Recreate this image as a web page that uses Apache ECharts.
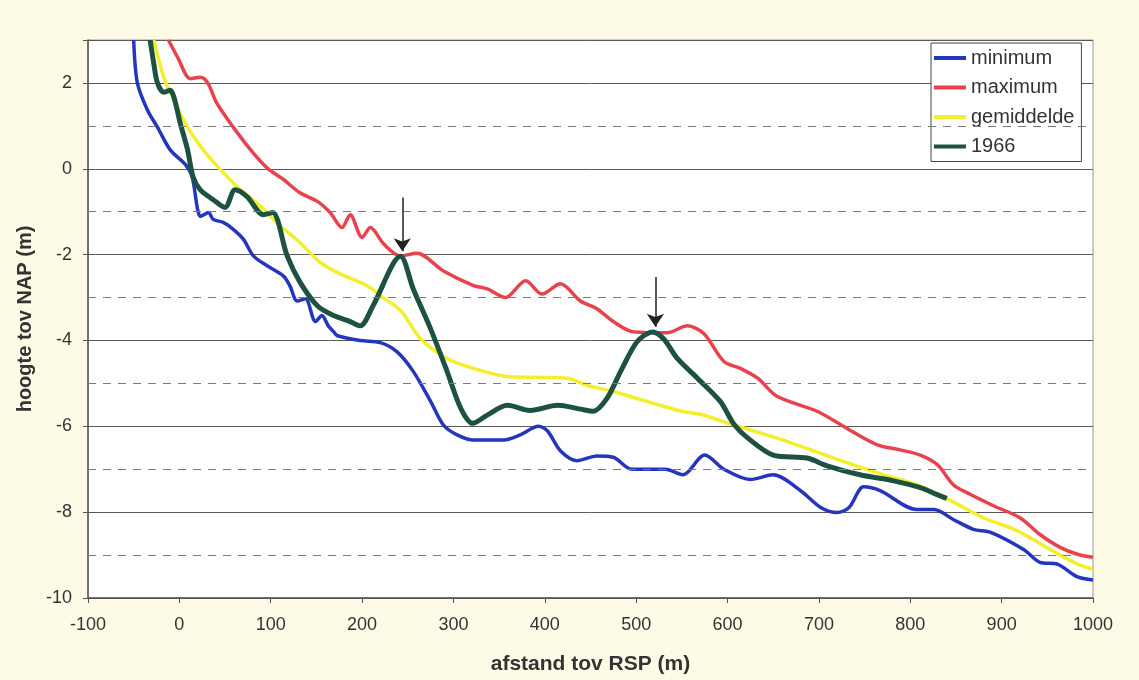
<!DOCTYPE html>
<html>
<head>
<meta charset="utf-8">
<script src="https://cdn.jsdelivr.net/npm/echarts@6/dist/echarts.min.js"></script>
<style>
  html, body { margin: 0; padding: 0; background: #fdfbe6; }
  #chart { width: 1139px; height: 680px; }
</style>
</head>
<body>
<div id="chart"></div>
<script>
// afstand (m) / hoogte (m) pairs
const minimum = [[-50,3.0],[-46,2.0],[-35,1.37],[-24,0.97],[-10,0.44],[7,0.09],[14,-0.19],[20,-0.95],[23,-1.11],[32,-1.02],[37,-1.18],[48,-1.25],[59,-1.41],[70,-1.64],[81,-2.03],[96,-2.26],[114,-2.5],[121,-2.73],[129,-3.08],[138,-3.03],[149,-3.56],[156,-3.42],[163,-3.66],[169,-3.8],[173,-3.89],[198,-4.0],[220,-4.05],[238,-4.26],[256,-4.72],[275,-5.42],[289,-5.97],[304,-6.2],[322,-6.32],[355,-6.32],[373,-6.2],[393,-6.0],[403,-6.11],[417,-6.57],[435,-6.8],[457,-6.69],[475,-6.72],[495,-7.0],[532,-7.0],[551,-7.13],[575,-6.67],[596,-7.0],[625,-7.24],[650,-7.13],[680,-7.5],[702,-7.89],[720,-8.01],[733,-7.89],[749,-7.41],[767,-7.5],[807,-7.94],[826,-7.94],[847,-8.17],[869,-8.4],[888,-8.47],[924,-8.87],[942,-9.17],[961,-9.21],[983,-9.51],[1000,-9.58]];
const maximum = [[-12,3.0],[-2,2.6],[12,2.1],[23,2.13],[31,2.0],[41,1.53],[59,0.97],[78,0.44],[96,0.02],[114,-0.25],[132,-0.56],[151,-0.76],[165,-1.02],[178,-1.37],[187,-1.07],[200,-1.6],[209,-1.37],[224,-1.76],[242,-2.03],[260,-1.97],[289,-2.38],[322,-2.72],[337,-2.8],[357,-3.0],[379,-2.61],[397,-2.92],[417,-2.68],[439,-3.08],[457,-3.26],[475,-3.56],[497,-3.8],[534,-3.82],[556,-3.66],[574,-3.84],[596,-4.49],[614,-4.65],[633,-4.88],[654,-5.3],[698,-5.65],[734,-6.09],[764,-6.43],[789,-6.55],[811,-6.67],[830,-6.9],[847,-7.36],[866,-7.59],[891,-7.85],[920,-8.13],[942,-8.52],[964,-8.82],[983,-8.98],[1000,-9.05]];
const gemiddelde = [[-28,3.0],[-17,2.13],[-6,1.6],[9,0.97],[26,0.44],[45,-0.02],[67,-0.49],[89,-0.88],[111,-1.34],[132,-1.72],[154,-2.18],[176,-2.45],[206,-2.73],[222,-2.99],[242,-3.3],[264,-3.96],[293,-4.42],[322,-4.65],[359,-4.84],[395,-4.86],[425,-4.88],[447,-5.05],[475,-5.19],[512,-5.42],[550,-5.65],[570,-5.72],[607,-5.97],[661,-6.32],[716,-6.74],[771,-7.13],[807,-7.36],[844,-7.73],[880,-8.13],[917,-8.43],[953,-8.87],[983,-9.21],[1000,-9.33]];
const jaar1966 = [[-32,3.0],[-28,2.45],[-24,2.0],[-17,1.78],[-10,1.83],[-6,1.67],[1,1.06],[9,0.44],[15,-0.19],[23,-0.49],[37,-0.72],[50,-0.9],[61,-0.49],[74,-0.65],[92,-1.07],[102,-1.02],[118,-2.03],[132,-2.64],[151,-3.19],[169,-3.42],[187,-3.56],[198,-3.66],[212,-3.19],[242,-2.04],[256,-2.8],[275,-3.73],[293,-4.72],[308,-5.58],[321,-5.93],[337,-5.74],[359,-5.51],[384,-5.63],[414,-5.51],[439,-5.6],[453,-5.65],[468,-5.35],[483,-4.72],[501,-4.03],[518,-3.8],[530,-3.96],[545,-4.42],[567,-4.88],[592,-5.42],[607,-5.95],[622,-6.27],[650,-6.67],[687,-6.74],[709,-6.92],[745,-7.13],[782,-7.27],[811,-7.43],[828,-7.58],[840,-7.68]];

// dashed gridlines at the odd metres
const dashedLevels = [-9, -7, -5, -3, -1, 1];
// arrows: [x, y top, y tip]
const arrows = [[244, -0.67, -1.92], [521, -2.52, -3.68]];

const chart = echarts.init(document.getElementById('chart'));

const lineSeries = (name, data, color, width) => ({
    name: name,
    type: 'line',
    data: data,
    smooth: 0.3,
    showSymbol: false,
    symbol: 'none',
    z: 3,
    lineStyle: { color: color, width: width },
    itemStyle: { color: color }
});

const option = {
    backgroundColor: '#fdfbe6',
    animation: false,
    textStyle: { fontFamily: 'Liberation Sans, Arial, sans-serif' },
    grid: {
        left: 88, right: 46, top: 40, bottom: 79,
        show: true,
        backgroundColor: '#ffffff',
        borderColor: '#9a9a9a',
        borderWidth: 1
    },
    legend: {
        orient: 'vertical',
        left: 931,
        top: 43,
        backgroundColor: '#ffffff',
        borderColor: '#444',
        borderWidth: 1,
        padding: [5, 7, 5, 3],
        itemGap: 9.5,
        itemWidth: 32,
        itemHeight: 4,
        icon: 'rect',
        textStyle: { fontSize: 20, color: '#333', lineHeight: 20 },
        data: ['minimum', 'maximum', 'gemiddelde', '1966']
    },
    xAxis: {
        type: 'value',
        min: -100,
        max: 1000,
        interval: 100,
        name: 'afstand tov RSP (m)',
        nameLocation: 'middle',
        nameGap: 56,
        nameTextStyle: { fontSize: 21, fontWeight: 'bold', color: '#333' },
        axisLine: { onZero: false, lineStyle: { color: '#555', width: 1.5 } },
        axisTick: { inside: false, length: 5, lineStyle: { color: '#555' } },
        axisLabel: { fontSize: 18, color: '#333', margin: 18, formatter: (v) => String(v) },
        splitLine: { show: false }
    },
    yAxis: {
        type: 'value',
        min: -10,
        max: 3,
        interval: 2,
        name: 'hoogte tov NAP (m)',
        nameLocation: 'middle',
        nameRotate: 90,
        nameGap: 53,
        nameTextStyle: { fontSize: 20, fontWeight: 'bold', color: '#333' },
        axisLine: { show: true, onZero: false, lineStyle: { color: '#555', width: 1.5 } },
        axisTick: { show: true, inside: false, length: 5, lineStyle: { color: '#555' } },
        axisLabel: {
            fontSize: 18, color: '#333', margin: 16,
            formatter: (v) => (v === 3 ? '' : String(v))
        },
        splitLine: { show: true, lineStyle: { color: '#5a5a5a', width: 1 } }
    },
    series: [
        {
            name: 'grid',
            type: 'line',
            data: [],
            z: 1,
            silent: true,
            markLine: {
                silent: true,
                symbol: 'none',
                label: { show: false },
                lineStyle: { color: '#7a7a7a', type: [8, 7], width: 1 },
                data: dashedLevels.map((v) => ({ yAxis: v }))
            }
        },
        lineSeries('minimum', minimum, '#2436c0', 3.5),
        lineSeries('maximum', maximum, '#e8434c', 3.5),
        lineSeries('gemiddelde', gemiddelde, '#f4ef2c', 3.5),
        Object.assign(lineSeries('1966', jaar1966, '#1d5242', 5), {
            z: 4,
            markLine: {
                silent: true,
                symbol: ['none', 'arrow'],
                symbolSize: 13,
                label: { show: false },
                lineStyle: { color: '#222', width: 1.5, type: 'solid' },
                itemStyle: { color: '#222' },
                data: arrows.map((a) => [
                    { coord: [a[0], a[1]] },
                    { coord: [a[0], a[2]] }
                ])
            }
        })
    ]
};

chart.setOption(option);
</script>
</body>
</html>
